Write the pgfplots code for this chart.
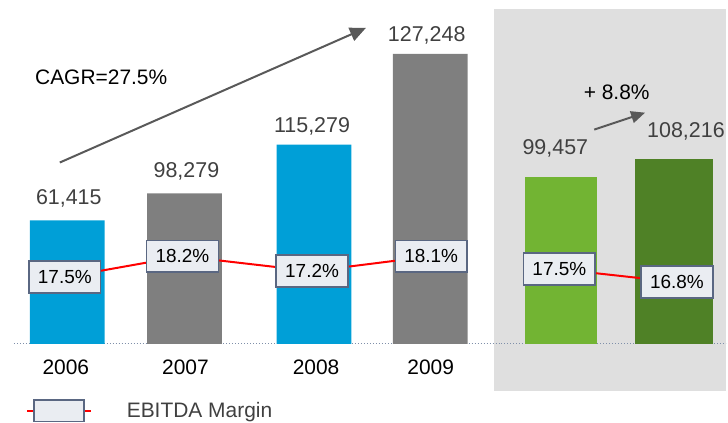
\documentclass[border=0pt]{standalone}
\usepackage{pgfplots}
\pgfplotsset{compat=1.18}
\usepackage{pgfplotstable}
\usepackage{fontspec}
\setmainfont{Liberation Sans}
\usetikzlibrary{arrows.meta}
\definecolor{barblue}{HTML}{009FD7}
\definecolor{bargray}{HTML}{7F7F7F}
\definecolor{lgreen}{HTML}{72B433}
\definecolor{dgreen}{HTML}{4F8126}
\definecolor{panel}{HTML}{DFDFDF}
\definecolor{boxfill}{HTML}{EAEDF2}
\definecolor{boxedge}{HTML}{5A6782}
\definecolor{labgray}{HTML}{404040}
\definecolor{arrgray}{HTML}{595959}
\definecolor{dotc}{HTML}{7F8FA9}

% value labels: x, y position (picture units above the baseline), text
\pgfplotstableread{
x y label
69 146 61,415
187 173 98,279
313 218 115,279
428 310 127,248
557 196 99,457
688 213 108,216
}\valuelabels

% EBITDA margin, annual
\pgfplotstableread{
x y label
65 67 17.5\%
183 88 18.2\%
313 73 17.2\%
432.5 88 18.1\%
}\marginA

% EBITDA margin, nine months
\pgfplotstableread{
x y label
561 75 17.5\%
679 62 16.8\%
}\marginB

\begin{document}
\begin{tikzpicture}
\begin{axis}[
  scale only axis,
  width=728pt, height=424pt,
  xmin=0, xmax=728, ymin=-79, ymax=345,
  axis line style={draw=none},
  clip=false,
  ytick=\empty,
  xtick={66,186,317,432,562,682},
  xticklabels={2006,2007,2008,2009,9M09,9M10},
  major tick length=0pt,
  xtick style={draw=none},
  xticklabel style={anchor=center, yshift=56pt, font=\fontsize{21}{25}\selectfont, text=black},
  legend style={at={(axis cs:26,-67)}, anchor=west, draw=none, fill=none, inner sep=0pt,
    font=\fontsize{21}{25}\selectfont, text=labgray,
    /tikz/every odd column/.append style={column sep=33pt}},
  legend image code/.code={
    \draw[red, line width=2pt] (0pt,0pt) -- (64pt,0pt);
    \draw[fill=boxfill, draw=boxedge, line width=1.5pt] (7pt,-11pt) rectangle (57pt,11pt);
  },
]
% shaded nine-month panel and baseline
\fill[panel] (axis cs:495,-47) rectangle (axis cs:728,336);
\draw[dotc, line width=1pt, dash pattern=on 1pt off 2pt] (axis cs:14,0) -- (axis cs:728,0);

% bars (heights as drawn in the picture)
\addplot[ybar, bar width=75, bar shift=0pt, fill=barblue, draw=none, forget plot]
  coordinates {(67.5,124) (315,200)};
\addplot[ybar, bar width=75, bar shift=0pt, fill=bargray, draw=none, forget plot]
  coordinates {(185,151) (431.5,291)};
\addplot[ybar, bar width=72, bar shift=0pt, fill=lgreen, draw=none, forget plot]
  coordinates {(563,167)};
\addplot[ybar, bar width=78, bar shift=0pt, fill=dgreen, draw=none, forget plot]
  coordinates {(676,186)};

% value labels
\addplot[draw=none, mark=none, forget plot, nodes near coords, point meta=explicit symbolic,
  nodes near coords style={anchor=center, text=labgray, font=\fontsize{21.5}{25}\selectfont}]
  table[x=x, y=y, meta=label] {\valuelabels};

% EBITDA margin line with boxed labels
\addplot[red, line width=2pt, mark=none, nodes near coords, point meta=explicit symbolic,
  nodes near coords style={anchor=center, fill=boxfill, draw=boxedge, line width=1.5pt,
    minimum width=72pt, minimum height=32pt, inner sep=0pt, text=black,
    font=\fontsize{19}{22}\selectfont}]
  table[x=x, y=y, meta=label] {\marginA};
\addlegendentry{EBITDA Margin}
\addplot[red, line width=2pt, mark=none, forget plot, nodes near coords, point meta=explicit symbolic,
  nodes near coords style={anchor=center, fill=boxfill, draw=boxedge, line width=1.5pt,
    minimum width=72pt, minimum height=32pt, inner sep=0pt, text=black,
    font=\fontsize{19}{22}\selectfont}]
  table[x=x, y=y, meta=label] {\marginB};

% growth arrows and annotations
\draw[arrgray, line width=2pt, -{Triangle[length=16pt,width=14pt]}] (axis cs:60,182) -- (axis cs:367,317);
\draw[arrgray, line width=2pt, -{Triangle[length=14pt,width=12pt]}] (axis cs:596,215) -- (axis cs:647,232);
\node[anchor=center, font=\fontsize{21}{25}\selectfont, text=black] at (axis cs:101.5,267) {CAGR=27.5\%};
\node[anchor=center, font=\fontsize{21}{25}\selectfont, text=black] at (axis cs:618.5,252) {+ 8.8\%};
\end{axis}
\end{tikzpicture}
\end{document}
